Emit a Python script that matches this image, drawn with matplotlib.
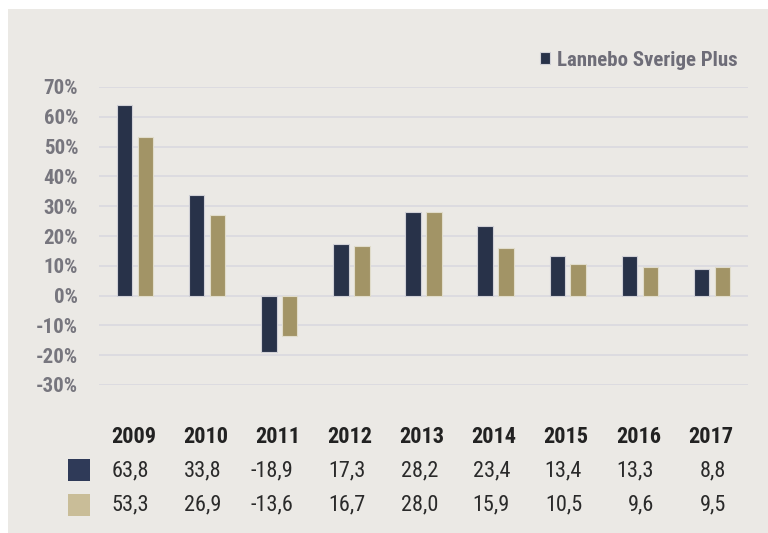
import numpy as np
import matplotlib.pyplot as plt
import matplotlib.transforms as mtransforms
from matplotlib.patches import Rectangle

years = ["2009", "2010", "2011", "2012", "2013", "2014", "2015", "2016", "2017"]
fund = [63.8, 33.8, -18.9, 17.3, 28.2, 23.4, 13.4, 13.3, 8.8]
index = [53.3, 26.9, -13.6, 16.7, 28.0, 15.9, 10.5, 9.6, 9.5]
fund_label = "Lannebo Sverige Plus"
yticks = [-30, -20, -10, 0, 10, 20, 30, 40, 50, 60, 70]

DARK = "#283249"
GOLD = "#a29466"
DARK_SQ = "#2f3a58"
GOLD_SQ = "#c9bd98"
BG = "#ebe9e5"

plt.rcParams["font.family"] = ["Roboto Condensed", "Liberation Sans Narrow", "Roboto", "DejaVu Sans"]

W, H = 768, 533
fig = plt.figure(figsize=(W / 100, H / 100), dpi=100)
fig.patch.set_facecolor("white")
# grey panel
fig.patches.append(Rectangle((8 / W, 0), 1, 1 - 9 / H, transform=fig.transFigure,
                             facecolor=BG, edgecolor="none", zorder=-10))

ax = fig.add_axes([99 / W, 1 - 385 / H, (748 - 99) / W, (385 - 87) / H])
ax.patch.set_alpha(0)

x = np.arange(len(years))
w = 0.215
off = 0.145
bars_f = ax.bar(x - off, fund, w, color=DARK, edgecolor="#d0d0d6", linewidth=0.8, zorder=3)
bars_i = ax.bar(x + off, index, w, color=GOLD, edgecolor="#e0dccb", linewidth=0.8, zorder=3)

ax.set_xlim(-0.5, len(years) - 0.5)
ax.set_ylim(-30, 70)
ax.set_yticks(yticks)
ax.set_yticklabels([f"{t}%" for t in yticks], fontsize=15, fontweight="bold", color="#77767e")
ax.tick_params(axis="y", length=0, pad=15)
ax.set_xticks([])
ax.grid(axis="y", color="#dcdbe0", linewidth=1.4, zorder=0)
for sp in ax.spines.values():
    sp.set_visible(False)

leg = ax.legend([bars_f], [fund_label], loc="center right", frameon=False,
                bbox_to_anchor=(756 / W, 1 - 60 / H), bbox_transform=fig.transFigure,
                handlelength=0.5, handleheight=0.5, handletextpad=0.3,
                prop={"size": 15, "weight": "bold"})
for t in leg.get_texts():
    t.set_color("#6e6d78")

# table below the chart
tr = mtransforms.blended_transform_factory(ax.transData, fig.transFigure)
for i, yr in enumerate(years):
    fig.text(i - 0.02, 1 - 437 / H, yr, transform=tr, ha="center", va="center",
             fontsize=16, fontweight="bold", color="#222222")
    fig.text(i + 0.2, 1 - 471 / H, f"{fund[i]:.1f}".replace(".", ","), transform=tr,
             ha="right", va="center", fontsize=16, color="#2a2a2a")
    fig.text(i + 0.2, 1 - 505 / H, f"{index[i]:.1f}".replace(".", ","), transform=tr,
             ha="right", va="center", fontsize=16, color="#2a2a2a")

for yc, col in [(470, DARK_SQ), (505, GOLD_SQ)]:
    fig.patches.append(Rectangle((68 / W, 1 - (yc + 11) / H), 22 / W, 22 / H,
                                 transform=fig.transFigure, facecolor=col, edgecolor="none"))

fig.savefig("out.png", dpi=100, facecolor=fig.get_facecolor())
